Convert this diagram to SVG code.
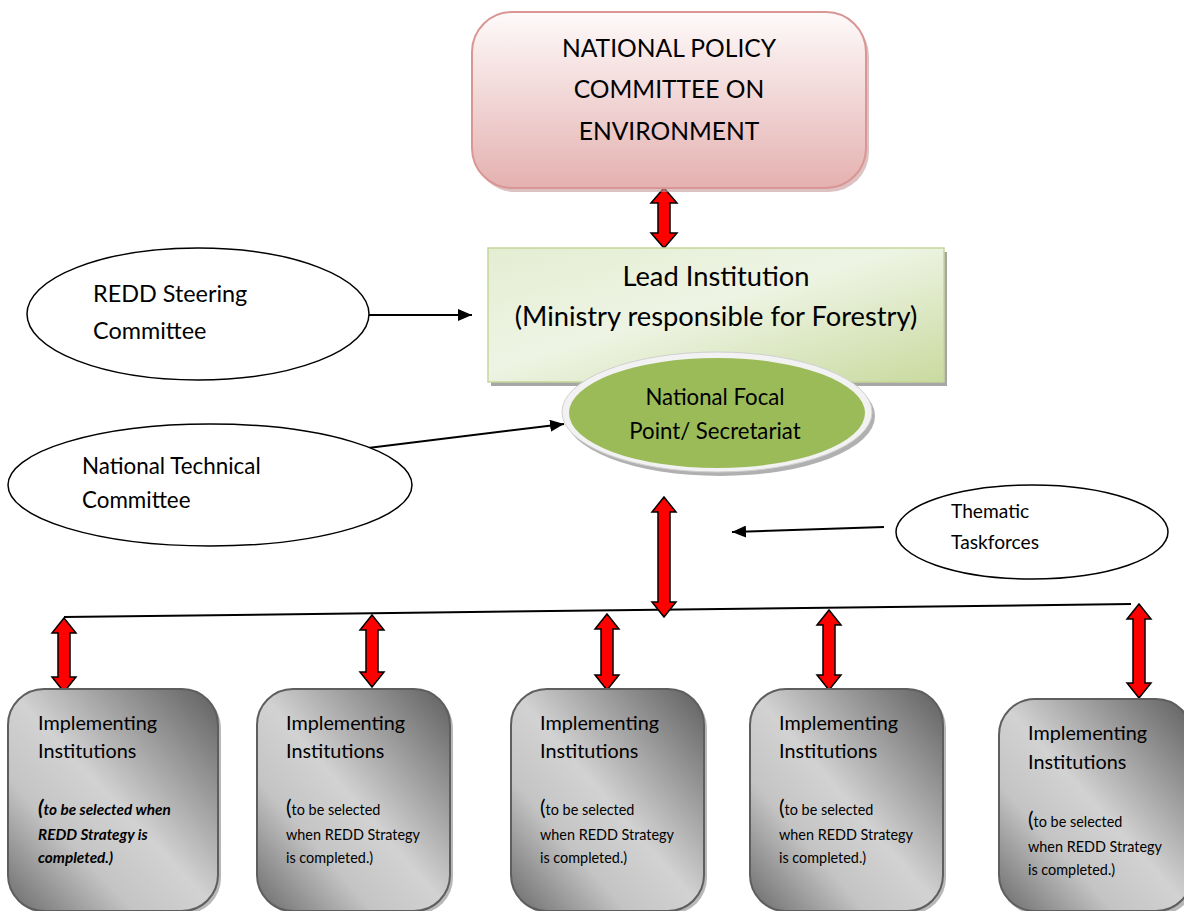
<svg xmlns="http://www.w3.org/2000/svg" width="1184" height="911" viewBox="0 0 1184 911">
<style>
text{font-family:Lato,"Open Sans","Liberation Sans",sans-serif;fill:#000}
.oval{fill:#fff;stroke:#000;stroke-width:1.5}
.dbl{fill:#ff0000;stroke:#000;stroke-width:1.5;stroke-linejoin:miter}
.conn{stroke:#000;stroke-width:2;fill:none}
.gbox{fill:url(#gGray);stroke:#5e5e5e;stroke-width:2}
.gsh{fill:#9a9a9a;opacity:.7}
.t18{font-size:19.8px}
.t13{font-size:14.4px}
.bi{font-weight:bold;font-style:italic;font-size:15.3px}
.par{font-size:21px}
</style>
<defs>
<linearGradient id="gPink" x1="0" y1="0" x2="0" y2="1">
<stop offset="0" stop-color="#fefafa"/>
<stop offset="1" stop-color="#e4b1b0"/>
</linearGradient>
<linearGradient id="gGreen" x1="0" y1="0" x2="1" y2="1">
<stop offset="0" stop-color="#e4edd2"/>
<stop offset="0.45" stop-color="#eef4e4"/>
<stop offset="1" stop-color="#c9da9f"/>
</linearGradient>
<linearGradient id="gGray" x1="1" y1="0" x2="0" y2="1">
<stop offset="0" stop-color="#5e5e5e"/>
<stop offset="0.5" stop-color="#d2d2d2"/>
<stop offset="0.7" stop-color="#c4c4c4"/>
<stop offset="1" stop-color="#6a6a6a"/>
</linearGradient>
<marker id="ah" viewBox="0 0 14 12" refX="14" refY="6" markerWidth="14" markerHeight="12" markerUnits="userSpaceOnUse" orient="auto">
<path d="M0,0 L14,6 L0,12 z" fill="#000"/>
</marker>
</defs>

<g id="connectors">
<line class="conn" x1="64" y1="617" x2="1131" y2="604"/>
<line class="conn" x1="369" y1="315" x2="472" y2="315" marker-end="url(#ah)"/>
<line class="conn" x1="368" y1="448" x2="564" y2="424" marker-end="url(#ah)"/>
<line class="conn" x1="884" y1="527" x2="732" y2="532" marker-end="url(#ah)"/>
<polygon class="dbl" points="664,188 677,203 670,203 670,233 677,233 664,248 651,233 658,233 658,203 651,203"/>
<polygon class="dbl" points="664,497 676,512 670,512 670,602 676,602 664,617 652,602 658,602 658,512 652,512"/>
<polygon class="dbl" points="64,618 76,633 70,633 70,677 76,677 64,692 52,677 58,677 58,633 52,633"/>
<polygon class="dbl" points="372,615 384,630 378,630 378,672 384,672 372,687 360,672 366,672 366,630 360,630"/>
<polygon class="dbl" points="607,614 619,629 613,629 613,675 619,675 607,690 595,675 601,675 601,629 595,629"/>
<polygon class="dbl" points="829,610 841,625 835,625 835,675 841,675 829,690 817,675 823,675 823,625 817,625"/>
<polygon class="dbl" points="1139,604 1151,619 1145,619 1145,683 1151,683 1139,698 1127,683 1133,683 1133,619 1127,619"/>
</g>

<g id="node-policy">
<rect x="475" y="16" width="394" height="176" rx="40" fill="#c49a9a" opacity="0.6"/>
<rect x="472" y="12" width="394" height="176" rx="40" fill="url(#gPink)" stroke="#d99694" stroke-width="2"/>
<text x="669" y="57" text-anchor="middle" font-size="24.6">NATIONAL POLICY</text>
<text x="669" y="98" text-anchor="middle" font-size="24.6">COMMITTEE ON</text>
<text x="669" y="140" text-anchor="middle" font-size="24.6">ENVIRONMENT</text>
</g>

<g id="node-lead">
<rect x="491" y="252" width="456" height="134" fill="#a6a6a6"/>
<rect x="488" y="248" width="456" height="134" fill="url(#gGreen)" stroke="#c3d69b" stroke-width="1.5"/>
<text x="716" y="286" text-anchor="middle" font-size="27.3">Lead Institution</text>
<text x="716" y="326" text-anchor="middle" font-size="27.3">(Ministry responsible for Forestry)</text>
</g>

<g id="node-focal">
<ellipse cx="720" cy="416" rx="155" ry="60" fill="#8f8f8f" opacity="0.7"/>
<ellipse cx="717" cy="412" rx="155" ry="60" fill="#f2f2f2" stroke="#d0d0d0" stroke-width="1"/>
<ellipse cx="717" cy="413" rx="148" ry="55" fill="#9bbb59"/>
<text x="715" y="405" text-anchor="middle" font-size="22.2">National Focal</text>
<text x="715" y="439" text-anchor="middle" font-size="22.2">Point/ Secretariat</text>
</g>

<g id="node-steering">
<ellipse class="oval" cx="198" cy="314" rx="171" ry="66"/>
<text x="93" y="302" font-size="23.4">REDD Steering</text>
<text x="93" y="339" font-size="23.4">Committee</text>
</g>

<g id="node-technical">
<ellipse class="oval" cx="210" cy="485" rx="202" ry="61"/>
<text x="82" y="474" font-size="22.4">National Technical</text>
<text x="82" y="508" font-size="22.4">Committee</text>
</g>

<g id="node-thematic">
<ellipse class="oval" cx="1032" cy="532" rx="136" ry="47"/>
<text x="951" y="518" font-size="19.2">Thematic</text>
<text x="951" y="549" font-size="19.2">Taskforces</text>
</g>

<g id="node-impl-1">
<rect class="gsh" x="11" y="692" width="210" height="222" rx="36"/>
<rect class="gbox" x="8" y="689" width="210" height="222" rx="36"/>
<text class="t18" x="38" y="730">Implementing</text>
<text class="t18" x="38" y="758">Institutions</text>
<text class="bi" x="38" y="815"><tspan class="par">(</tspan>to be selected when</text>
<text class="bi" x="38" y="840">REDD Strategy is</text>
<text class="bi" x="38" y="863">completed.)</text>
</g>

<g id="node-impl-2">
<rect class="gsh" x="260" y="692" width="193" height="222" rx="36"/>
<rect class="gbox" x="257" y="689" width="193" height="222" rx="36"/>
<text class="t18" x="286" y="730">Implementing</text>
<text class="t18" x="286" y="758">Institutions</text>
<text class="t13" x="286" y="815"><tspan class="par">(</tspan>to be selected</text>
<text class="t13" x="286" y="840">when REDD Strategy</text>
<text class="t13" x="286" y="863">is completed.)</text>
</g>

<g id="node-impl-3">
<rect class="gsh" x="514" y="692" width="193" height="222" rx="36"/>
<rect class="gbox" x="511" y="689" width="193" height="222" rx="36"/>
<text class="t18" x="540" y="730">Implementing</text>
<text class="t18" x="540" y="758">Institutions</text>
<text class="t13" x="540" y="815"><tspan class="par">(</tspan>to be selected</text>
<text class="t13" x="540" y="840">when REDD Strategy</text>
<text class="t13" x="540" y="863">is completed.)</text>
</g>

<g id="node-impl-4">
<rect class="gsh" x="753" y="692" width="193" height="222" rx="36"/>
<rect class="gbox" x="750" y="689" width="193" height="222" rx="36"/>
<text class="t18" x="779" y="730">Implementing</text>
<text class="t18" x="779" y="758">Institutions</text>
<text class="t13" x="779" y="815"><tspan class="par">(</tspan>to be selected</text>
<text class="t13" x="779" y="840">when REDD Strategy</text>
<text class="t13" x="779" y="863">is completed.)</text>
</g>

<g id="node-impl-5">
<rect class="gsh" x="1002" y="703" width="193" height="212" rx="36"/>
<rect class="gbox" x="999" y="699" width="193" height="212" rx="36"/>
<text class="t18" x="1028" y="740">Implementing</text>
<text class="t18" x="1028" y="769">Institutions</text>
<text class="t13" x="1028" y="827"><tspan class="par">(</tspan>to be selected</text>
<text class="t13" x="1028" y="852">when REDD Strategy</text>
<text class="t13" x="1028" y="875">is completed.)</text>
</g>
</svg>
